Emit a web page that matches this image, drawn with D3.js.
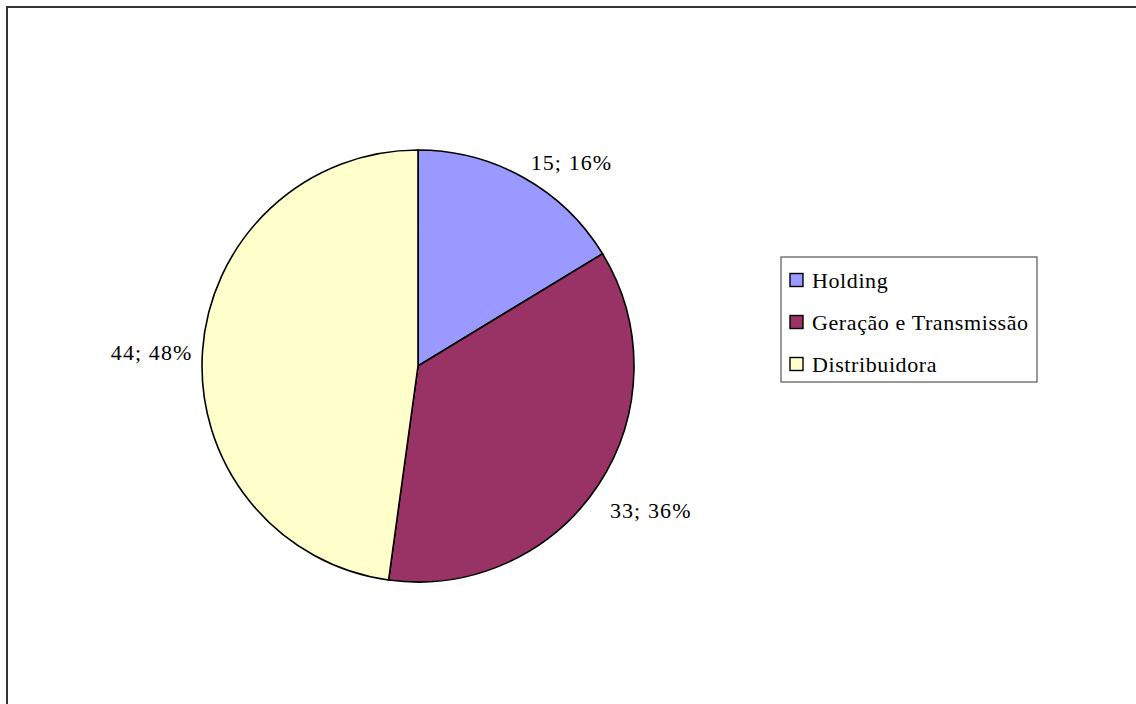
<!DOCTYPE html>
<html>
<head>
<meta charset="utf-8">
<script src="https://cdn.jsdelivr.net/npm/d3@7/dist/d3.min.js"></script>
<style>
  html, body { margin: 0; padding: 0; background: #fff; }
  svg { display: block; }
  text { font-family: "Liberation Serif", "Times New Roman", serif; fill: #000; }
</style>
</head>
<body>
<svg id="chart" width="1136" height="704"></svg>
<script>
// Participação por segmento
const categories = ["Holding", "Geração e Transmissão", "Distribuidora"];
const values = [15, 33, 44];
const colors = ["#9999FF", "#993366", "#FFFFCC"];

const svg = d3.select("#chart");
const W = 1136, H = 704;

// outer chart frame (runs past the right and bottom edges of the view)
svg.append("rect")
  .attr("x", 7).attr("y", 7)
  .attr("width", W + 20).attr("height", H + 20)
  .attr("fill", "#fff")
  .attr("stroke", "#333").attr("stroke-width", 2);

const cx = 418, cy = 366, radius = 216;
const total = d3.sum(values);

const pie = d3.pie().sort(null).value(d => d)
  .startAngle(0).endAngle(2 * Math.PI);
const arcs = pie(values);
const arc = d3.arc().innerRadius(0).outerRadius(radius);

const g = svg.append("g").attr("transform", `translate(${cx},${cy})`);

g.selectAll("path.slice")
  .data(arcs)
  .enter().append("path")
  .attr("class", "slice")
  .attr("d", arc)
  .attr("fill", (d, i) => colors[i])
  .attr("stroke", "#000")
  .attr("stroke-width", 1.6)
  .attr("stroke-linejoin", "round");

// data labels "value; percent" placed outside each slice
const labelArc = d3.arc().innerRadius(radius + 42).outerRadius(radius + 42);
const labelNudge = [[27, 21], [17, 3], [-9, 4]];
g.selectAll("text.lbl")
  .data(arcs)
  .enter().append("text")
  .attr("class", "lbl")
  .attr("transform", (d, i) => {
    const c = labelArc.centroid(d);
    return `translate(${c[0] + labelNudge[i][0]},${c[1] + labelNudge[i][1]})`;
  })
  .attr("text-anchor", "middle")
  .attr("dy", "0.35em")
  .style("font-size", "22px")
  .style("letter-spacing", "1.1px")
  .text(d => `${d.data}; ${Math.round(d.data / total * 100)}%`);

// legend
const legend = svg.append("g").attr("transform", "translate(781,257)");
legend.append("rect")
  .attr("x", 0).attr("y", 0)
  .attr("width", 256).attr("height", 125)
  .attr("fill", "#fff")
  .attr("stroke", "#555").attr("stroke-width", 1.2);

const rowY = d3.scalePoint().domain(categories).range([23, 107]);
const item = legend.selectAll("g.item")
  .data(categories)
  .enter().append("g")
  .attr("class", "item")
  .attr("transform", d => `translate(0,${rowY(d)})`);

item.append("rect")
  .attr("x", 9).attr("y", -6.5)
  .attr("width", 13).attr("height", 13)
  .attr("fill", (d, i) => colors[i])
  .attr("stroke", "#000").attr("stroke-width", 1.4);

item.append("text")
  .attr("x", 31).attr("dy", "0.35em")
  .style("font-size", "22px")
  .style("letter-spacing", "0.6px")
  .text(d => d);
</script>
</body>
</html>
